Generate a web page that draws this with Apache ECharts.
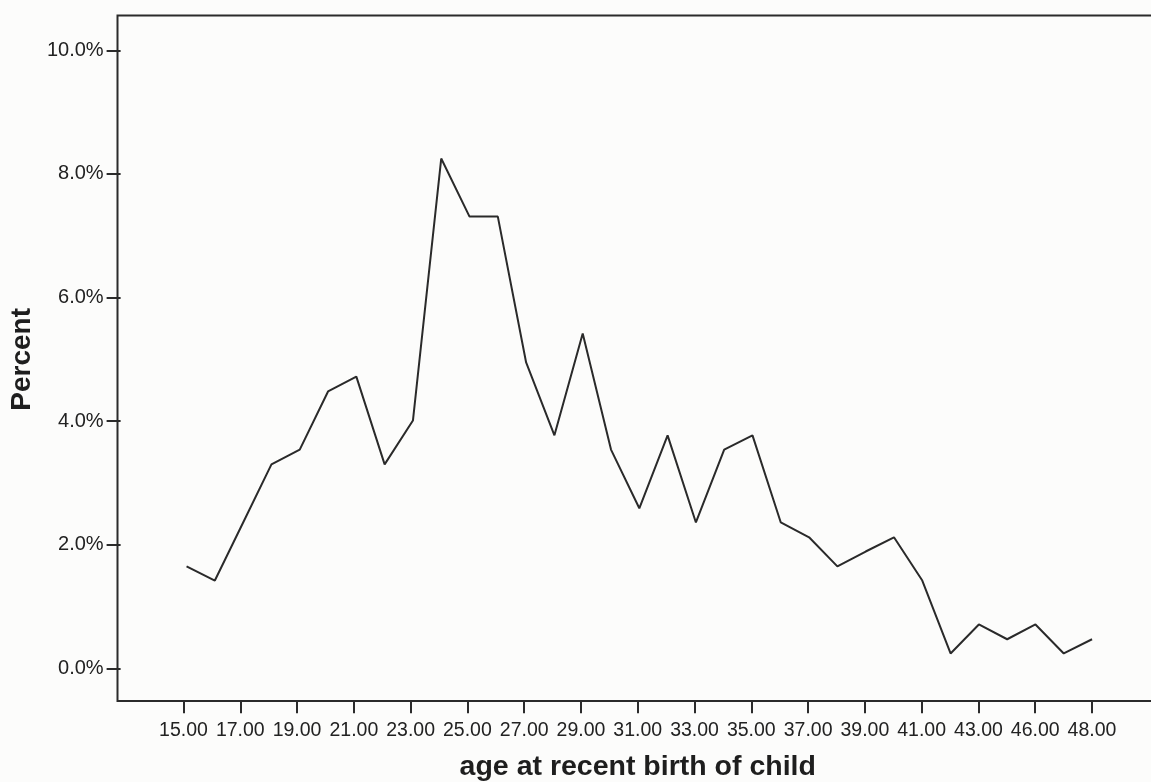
<!DOCTYPE html>
<html>
<head>
<meta charset="utf-8">
<script src="https://cdn.jsdelivr.net/npm/echarts@6/dist/echarts.min.js"></script>
<style>
  html, body { margin: 0; padding: 0; background: #fcfcfb; }
  #chart { width: 1151px; height: 782px; }
</style>
</head>
<body>
<div id="chart"></div>
<script>
// Age categories (x axis)
const ages = ['15.00','16.00','17.00','18.00','19.00','20.00','21.00','22.00','23.00','24.00',
              '25.00','26.00','27.00','28.00','29.00','30.00','31.00','32.00','33.00','34.00',
              '35.00','36.00','37.00','38.00','39.00','40.00','41.00','42.00','43.00','44.00',
              '46.00','47.00','48.00'];
// Percent of cases per age
const percents = [1.65, 1.42, 2.36, 3.30, 3.54, 4.48, 4.72, 3.30, 4.01, 8.25,
                  7.31, 7.31, 4.95, 3.77, 5.42, 3.54, 2.59, 3.77, 2.36, 3.54,
                  3.77, 2.36, 2.12, 1.65, 1.89, 2.12, 1.42, 0.24, 0.71, 0.47,
                  0.71, 0.24, 0.47];
const xTitle = 'age at recent birth of child';
const yTitle = 'Percent';

const chart = echarts.init(document.getElementById('chart'), null, { renderer: 'canvas' });
const font = '"Liberation Sans", Arial, Helvetica, sans-serif';
const ink = '#2b2b2b';

chart.setOption({
  backgroundColor: '#fcfcfb',
  animation: false,
  grid: [
    { left: 169.3, right: 44.8, top: 50.4, bottom: 113.7, containLabel: false },
    // thin grid at the frame's bottom edge that carries the visible x axis
    { left: 169.3, right: 44.8, top: 700, height: 1, containLabel: false }
  ],
  graphic: [{
    type: 'rect',
    shape: { x: 117.5, y: 15.5, width: 1060, height: 685.5 },
    style: { fill: 'none', stroke: ink, lineWidth: 2 },
    silent: true, z: 10
  }],
  xAxis: [{
    gridIndex: 0,
    type: 'category',
    data: ages,
    boundaryGap: true,
    axisLine: { show: false },
    axisTick: { show: false },
    axisLabel: { show: false },
    splitLine: { show: false }
  }, {
    gridIndex: 1,
    type: 'category',
    data: ages,
    boundaryGap: true,
    position: 'bottom',
    axisLine: { show: false },
    axisTick: { show: true, interval: 1, alignWithLabel: true, length: 13, lineStyle: { color: ink, width: 2 } },
    axisLabel: { interval: 1, margin: 20, color: '#222', fontSize: 19.5, fontFamily: font },
    splitLine: { show: false },
    name: xTitle,
    nameLocation: 'middle',
    nameGap: 52,
    nameTextStyle: { color: '#1e1e1e', fontSize: 28.5, fontWeight: 'bold', fontFamily: font }
  }],
  yAxis: [{
    gridIndex: 0,
    type: 'value',
    min: 0, max: 10, interval: 2,
    offset: 51.8,
    axisLine: { show: false },
    axisTick: { show: true, length: 14, lineStyle: { color: ink, width: 2 } },
    axisLabel: { margin: 17, color: '#222', fontSize: 20, fontFamily: font,
                 formatter: v => v.toFixed(1) + '%' },
    splitLine: { show: false },
    name: yTitle,
    nameLocation: 'middle',
    nameGap: 80,
    nameTextStyle: { color: '#1e1e1e', fontSize: 28, fontWeight: 'bold', fontFamily: font }
  }, {
    gridIndex: 1,
    type: 'value',
    show: false
  }],
  series: [{
    type: 'line',
    xAxisIndex: 0,
    yAxisIndex: 0,
    data: percents,
    symbol: 'none',
    lineStyle: { color: '#2a2a2a', width: 2 },
    z: 5
  }]
});
</script>
</body>
</html>
